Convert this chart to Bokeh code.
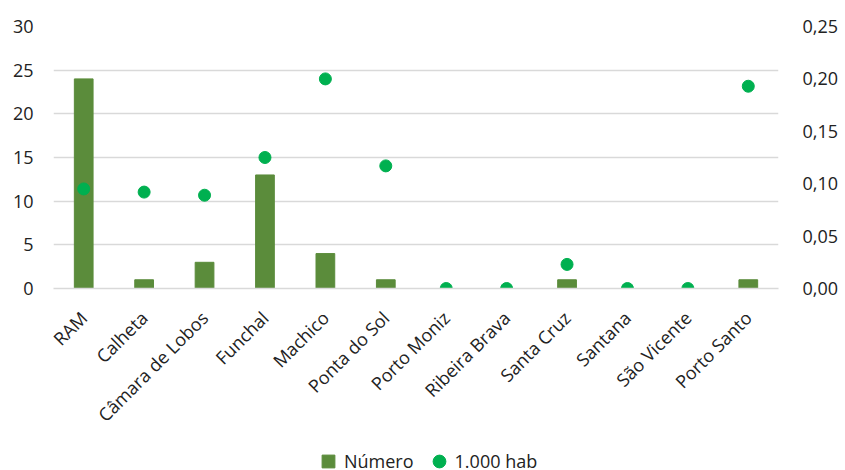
import math
from bokeh.plotting import figure
from bokeh.layouts import column
from bokeh.models import ColumnDataSource, Range1d, LinearAxis, Legend, LegendItem, FixedTicker, CustomJSTickFormatter
from bokeh.embed import file_html
from bokeh.resources import INLINE

categories = ["RAM", "Calheta", "Câmara de Lobos", "Funchal", "Machico", "Ponta do Sol",
              "Porto Moniz", "Ribeira Brava", "Santa Cruz", "Santana", "São Vicente", "Porto Santo"]
numero = [24, 1, 3, 13, 4, 1, 0, 0, 1, 0, 0, 1]
por_mil_hab = [0.095, 0.092, 0.089, 0.125, 0.200, 0.117, 0.0, 0.0, 0.023, 0.0, 0.0, 0.193]
left_ticks = [0, 5, 10, 15, 20, 25, 30]
right_ticks = [0.0, 0.05, 0.10, 0.15, 0.20, 0.25]
series_names = ["Número", "1.000 hab"]

FONT = "Open Sans"
FS = "18px"
BAR_COLOR = "#5B8C3B"
DOT_COLOR = "#00B050"

src = ColumnDataSource(dict(cat=categories, num=numero, rate=por_mil_hab))

p = figure(x_range=categories, y_range=Range1d(0, 30), width=845, height=438,
           output_backend="svg", toolbar_location=None,
           min_border_left=53, min_border_right=67, min_border_top=26, min_border_bottom=150)
p.extra_y_ranges = {"rate": Range1d(0, 0.25)}

p.vbar(x="cat", top="num", width=0.31, source=src, color=BAR_COLOR)
p.scatter(x="cat", y="rate", source=src, y_range_name="rate", size=12,
          color=DOT_COLOR, line_color=DOT_COLOR)

p.outline_line_color = None
p.xgrid.grid_line_color = None
p.ygrid.grid_line_color = "#D9D9D9"
p.ygrid.grid_line_width = 1.3
p.ygrid.ticker = FixedTicker(ticks=left_ticks)

p.yaxis.ticker = FixedTicker(ticks=left_ticks)
ya = p.yaxis[0]
ya.axis_line_color = None
ya.major_tick_line_color = None
ya.minor_tick_line_color = None
ya.major_label_text_font = FONT
ya.major_label_text_font_size = FS
ya.major_label_text_color = "#222222"
ya.major_label_standoff = 14

ra = LinearAxis(y_range_name="rate", ticker=FixedTicker(ticks=right_ticks),
                formatter=CustomJSTickFormatter(code="return tick.toFixed(2).replace('.', ',');"))
ra.axis_line_color = None
ra.major_tick_line_color = None
ra.minor_tick_line_color = None
ra.major_label_text_font = FONT
ra.major_label_text_font_size = FS
ra.major_label_text_color = "#222222"
ra.major_label_standoff = 18
p.add_layout(ra, "right")

xa = p.xaxis[0]
xa.axis_line_color = "#D9D9D9"
xa.axis_line_width = 1.3
xa.major_tick_line_color = None
xa.minor_tick_line_color = None
xa.major_label_orientation = math.pi / 4
xa.major_label_text_font = FONT
xa.major_label_text_font_size = FS
xa.major_label_text_color = "#222222"
xa.major_label_standoff = 20

# legend strip (dummy renderers sit outside the visible range)
lg = figure(width=845, height=32, x_range=Range1d(0, 1), y_range=Range1d(0, 1),
            output_backend="svg", toolbar_location=None,
            min_border=0, min_border_left=0, min_border_right=0, min_border_top=0, min_border_bottom=0)
lg.axis.visible = False
lg.grid.visible = False
lg.outline_line_color = None
r1 = lg.scatter(x=[-10], y=[-10], marker="square", size=13, color=BAR_COLOR)
r2 = lg.scatter(x=[-10], y=[-10], marker="circle", size=13, color=DOT_COLOR)
legend = Legend(items=[LegendItem(label=series_names[0], renderers=[r1], index=0),
                       LegendItem(label=series_names[1], renderers=[r2], index=0)],
                orientation="horizontal", location=(259, -7),
                background_fill_alpha=0, border_line_color=None,
                label_text_font=FONT, label_text_font_size=FS, label_text_color="#222222",
                glyph_width=32, glyph_height=32, spacing=9, label_standoff=0, padding=0, margin=0)
lg.add_layout(legend, "center")

open("out.html", "w").write(file_html(column(p, lg, spacing=0), INLINE))
